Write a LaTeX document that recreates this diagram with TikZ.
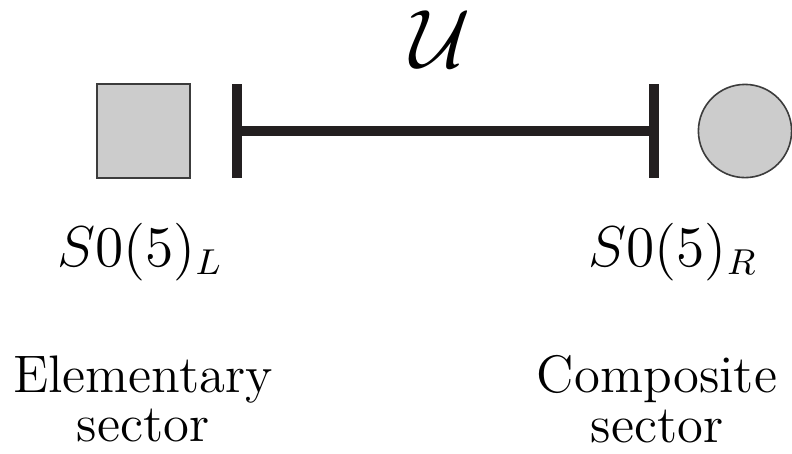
\documentclass[tikz,border=0pt]{standalone}
\usepackage{xcolor}
\usepackage{tikz}
\usetikzlibrary{positioning}
\definecolor{boxgray}{HTML}{CCCCCC}
\definecolor{edgegray}{HTML}{3C3C3C}
\definecolor{barblack}{HTML}{231F20}

\begin{document}
\begin{tikzpicture}[
        x=0.25pt, y=-0.25pt,
        sector/.style={draw=edgegray, line width=0.4pt, fill=boxgray, inner sep=0pt},
        wallbar/.style={fill=barblack, inner sep=0pt,
                        minimum width=2.3pt, minimum height=23.5pt},
        link/.style={draw=barblack, line width=2.3pt},
        grp/.style={font=\fontsize{13.5}{16}\selectfont, inner sep=0pt, anchor=base},
        txt/.style={font=\fontsize{13.2}{12.3}\selectfont, align=center,
                    inner sep=0pt, anchor=north}
    ]
        \useasboundingbox (0,0) rectangle (792,453);

        \node[sector, minimum width=23.25pt, minimum height=23.5pt] (elem) at (143.5,131) {};
        \node[sector, circle, minimum size=23.3pt] (comp) at (745,131) {};
        \node[wallbar] (lbar) at (237,131) {};
        \node[wallbar] (rbar) at (654,131) {};
        \draw[link] (lbar) -- (rbar);
        \node[font=\fontsize{20}{24}\selectfont, inner sep=0pt] (uu) at (441,39) {$\mathcal{U}$};

        \node[grp] (soL) at (140,266) {$S0(5)_L$};
        \node[grp] (soR) at (673,266) {$S0(5)_R$};

        \node[txt] (eltxt) at (143,355) {Elementary\\sector};
        \node[txt] (cotxt) at (657,355) {Composite\\sector};
    \end{tikzpicture}
\end{document}
